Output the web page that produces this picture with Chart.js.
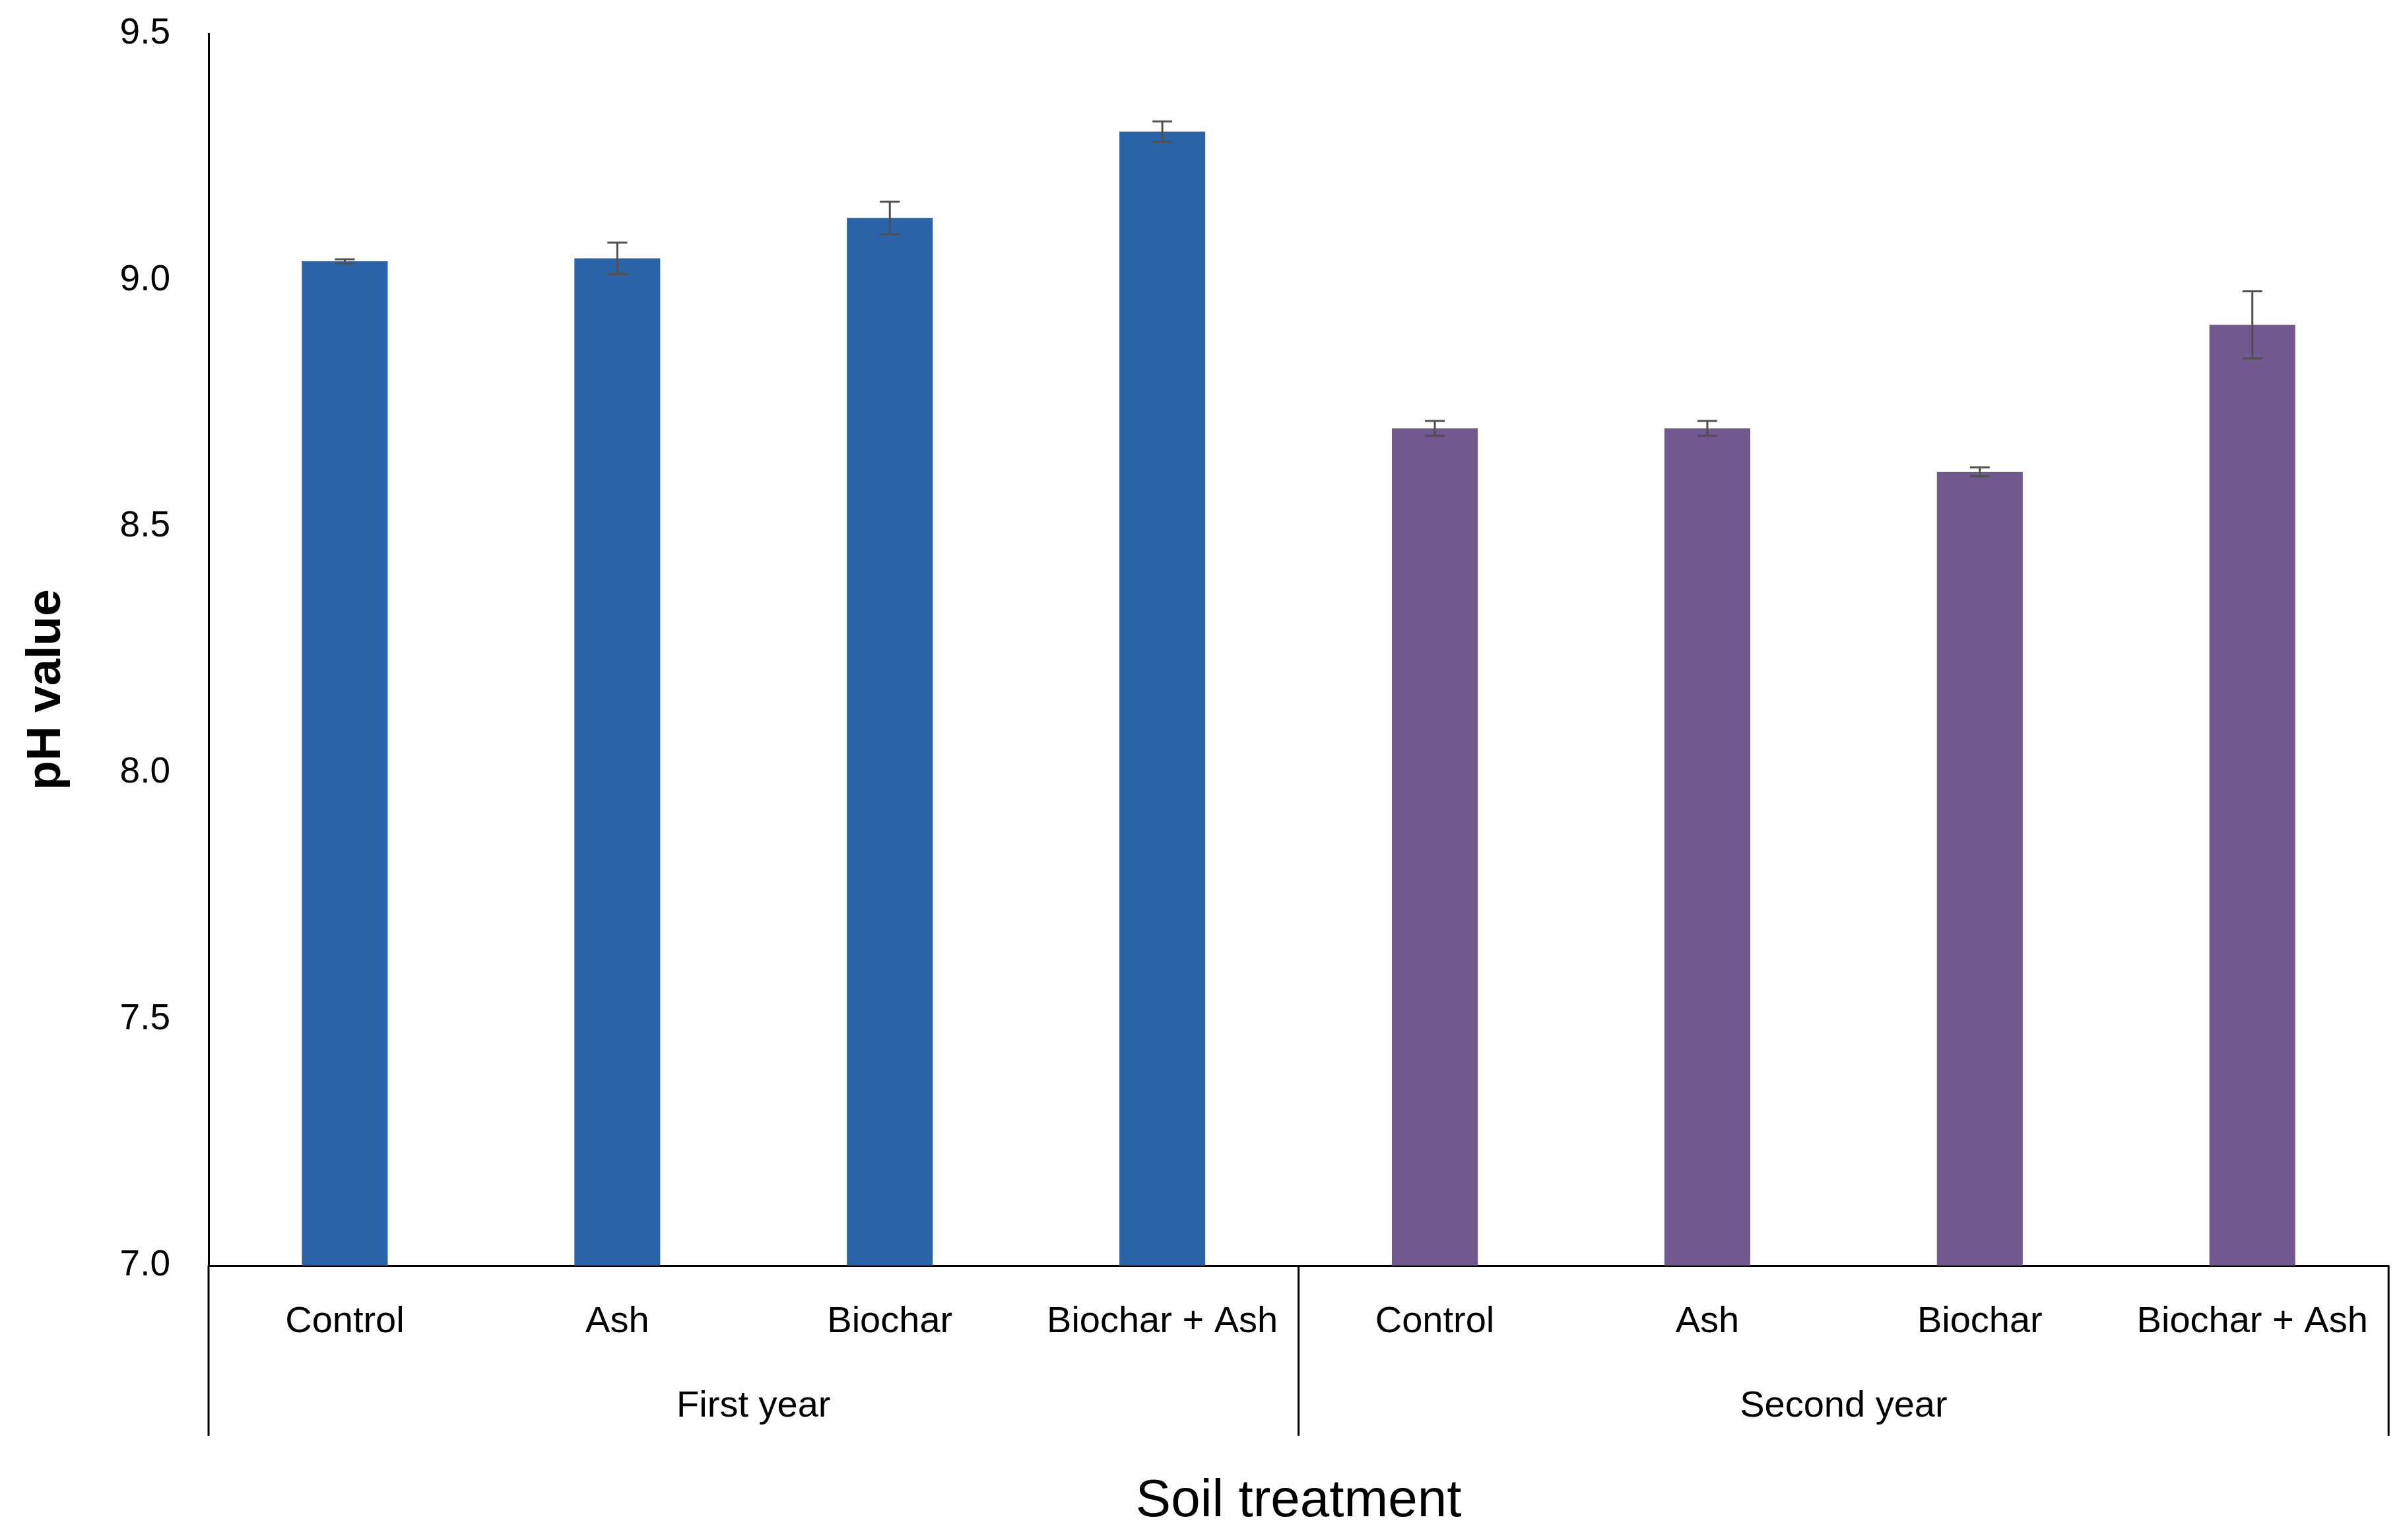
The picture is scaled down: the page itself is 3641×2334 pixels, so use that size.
<!DOCTYPE html>
<html>

<head>
  <meta charset="UTF-8">
  <title>Soil pH</title>
  <script src="https://cdn.jsdelivr.net/npm/chart.js"></script>
  <style>
    body {
      margin: 0;
      background: white;
    }

    #wrap {
      width: 3641px;
      height: 2334px;
    }
  </style>
</head>

<body>
  <div id="wrap">
    <canvas id="myChart" width="3641" height="2334"></canvas>
  </div>

  <script>
    // data
    const treatments = ['Control', 'Ash', 'Biochar', 'Biochar + Ash', 'Control', 'Ash', 'Biochar', 'Biochar + Ash'];
    const years = ['First year', 'Second year'];
    const phValues = [9.038, 9.044, 9.126, 9.301, 8.699, 8.699, 8.611, 8.909];
    const phErrors = [0.004, 0.032, 0.033, 0.021, 0.015, 0.015, 0.009, 0.068];
    const yTicks = [7.0, 7.5, 8.0, 8.5, 9.0, 9.5];

    const yearColors = ['#2A63A8', '#71598F'];
    const FONT = 'Liberation Sans, Arial, sans-serif';

    // error bars, drawn from the y scale
    const errorBars = {
      id: 'errorBars',
      afterDatasetsDraw(chart) {
        const ctx = chart.ctx;
        const y = chart.scales.y;
        const meta = chart.getDatasetMeta(0);
        ctx.save();
        ctx.strokeStyle = '#505050';
        ctx.lineWidth = 3;
        meta.data.forEach((bar, i) => {
          const top = y.getPixelForValue(phValues[i] + phErrors[i]);
          const bot = y.getPixelForValue(phValues[i] - phErrors[i]);
          const cap = 15;
          ctx.beginPath();
          ctx.moveTo(bar.x, top);
          ctx.lineTo(bar.x, bot);
          ctx.moveTo(bar.x - cap, top);
          ctx.lineTo(bar.x + cap, top);
          ctx.moveTo(bar.x - cap, bot);
          ctx.lineTo(bar.x + cap, bot);
          ctx.stroke();
        });
        ctx.restore();
      }
    };

    // vertical divider lines under the axis (edges and between the two years)
    const groupLines = {
      id: 'groupLines',
      afterDraw(chart) {
        const ctx = chart.ctx;
        const x = chart.scales.x;
        const x2 = chart.scales.x2;
        const mid = (x.left + x.right) / 2;
        ctx.save();
        ctx.strokeStyle = '#000';
        ctx.lineWidth = 3;
        ctx.beginPath();
        [x.left, mid, x.right].forEach(px => {
          ctx.moveTo(px, x.top);
          ctx.lineTo(px, x2.top + 139);
        });
        ctx.stroke();
        ctx.restore();
      }
    };

    const data = {
      labels: treatments,
      datasets: [{
        label: 'pH value',
        data: phValues,
        backgroundColor: c => yearColors[c.dataIndex < 4 ? 0 : 1],
        borderWidth: 0,
        barPercentage: 0.315,
        categoryPercentage: 1
      }]
    };

    const options = {
      responsive: false,
      animation: false,
      devicePixelRatio: 1,
      layout: {
        padding: { left: 23, right: 19, top: 51, bottom: 10 }
      },
      plugins: {
        legend: { display: false },
        tooltip: { enabled: false }
      },
      scales: {
        y: {
          min: 7,
          max: 9.5,
          afterBuildTicks: s => { s.ticks = yTicks.map(v => ({ value: v })); },
          afterFit: s => { s.width = 293; },
          ticks: {
            color: '#000',
            padding: 10,
            font: { family: FONT, size: 55 },
            callback: v => Number(v).toFixed(1)
          },
          // invisible tick marks keep the labels off the axis line
          grid: { display: true, drawOnChartArea: false, drawTicks: true, tickLength: 48, tickColor: 'rgba(0,0,0,0)' },
          border: { display: true, color: '#000', width: 3 },
          title: {
            display: true,
            text: 'pH value      ',
            color: '#000',
            font: { family: FONT, size: 73, weight: 'bold' },
            padding: { top: 4, bottom: 62 }
          }
        },
        x: {
          offset: true,
          weight: 0,
          afterFit: s => { s.height = 119; },
          grid: { display: false, drawTicks: false },
          border: { display: true, color: '#000', width: 3 },
          ticks: {
            color: '#000',
            padding: 52,
            maxRotation: 0,
            autoSkip: false,
            font: { family: FONT, size: 56 }
          }
        },
        x2: {
          type: 'category',
          axis: 'x',
          position: 'bottom',
          weight: 1,
          labels: years,
          offset: true,
          afterFit: s => { s.height = 287; },
          grid: { display: false, drawTicks: false },
          border: { display: false },
          ticks: {
            color: '#000',
            padding: 61,
            maxRotation: 0,
            font: { family: FONT, size: 56 }
          },
          title: {
            display: true,
            text: 'Soil treatment',
            color: '#000',
            font: { family: FONT, size: 80 },
            padding: { top: 60, bottom: 0 }
          }
        }
      }
    };

    const ctx = document.getElementById('myChart').getContext('2d');
    const myChart = new Chart(ctx, {
      type: 'bar',
      data: data,
      options: options,
      plugins: [errorBars, groupLines]
    });
  </script>

</body>

</html>
